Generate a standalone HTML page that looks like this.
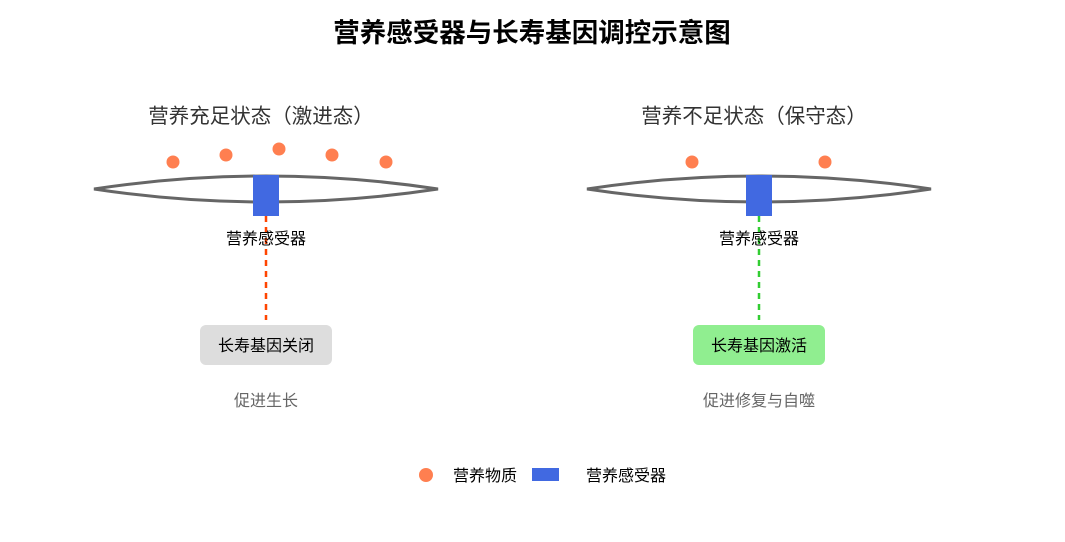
<!DOCTYPE html>
<html><head><meta charset="utf-8"><style>body{margin:0;background:#fff}svg{display:block}text{font-family:"Liberation Sans","Noto Sans CJK SC",sans-serif}</style></head>
<body>
<svg width="1065" height="542" viewBox="0 0 1065 542">
<text x="532" y="42" text-anchor="middle" font-size="26.5" font-weight="bold" fill="#000">营养感受器与长寿基因调控示意图</text>
<g>
<text x="261" y="123" text-anchor="middle" font-size="20.5" fill="#333">营养充足状态（激进态）</text>
<path d="M94,189 Q266,163 438,189 Q266,215 94,189 Z" fill="none" stroke="#666" stroke-width="3"/>
<g fill="#ff7f50"><circle cx="173" cy="162" r="6.5"/><circle cx="226" cy="155" r="6.5"/><circle cx="279" cy="149" r="6.5"/><circle cx="332" cy="155" r="6.5"/><circle cx="386" cy="162" r="6.5"/></g>
<rect x="253" y="175" width="26" height="41" fill="#4169e1"/>
<line x1="266" y1="216" x2="266" y2="320" stroke="#ff4500" stroke-width="2.5" stroke-dasharray="6,5"/>
<text x="266" y="244" text-anchor="middle" font-size="16" fill="#000">营养感受器</text>
<rect x="200" y="325" width="132" height="40" rx="6" fill="#ddd"/>
<text x="266" y="351" text-anchor="middle" font-size="16" fill="#000">长寿基因关闭</text>
<text x="266" y="406" text-anchor="middle" font-size="16" fill="#666">促进生长</text>
</g>
<g>
<text x="754" y="123" text-anchor="middle" font-size="20.5" fill="#333">营养不足状态（保守态）</text>
<path d="M587,189 Q759,163 931,189 Q759,215 587,189 Z" fill="none" stroke="#666" stroke-width="3"/>
<g fill="#ff7f50"><circle cx="692" cy="162" r="6.5"/><circle cx="825" cy="162" r="6.5"/></g>
<rect x="746" y="175" width="26" height="41" fill="#4169e1"/>
<line x1="759" y1="216" x2="759" y2="320" stroke="#32cd32" stroke-width="2.5" stroke-dasharray="6,5"/>
<text x="759" y="244" text-anchor="middle" font-size="16" fill="#000">营养感受器</text>
<rect x="693" y="325" width="132" height="40" rx="6" fill="#90ee90"/>
<text x="759" y="351" text-anchor="middle" font-size="16" fill="#000">长寿基因激活</text>
<text x="759" y="406" text-anchor="middle" font-size="16" fill="#666">促进修复与自噬</text>
</g>
<circle cx="426" cy="475" r="7" fill="#ff7f50"/>
<text x="453" y="481" font-size="16" fill="#000">营养物质</text>
<rect x="532" y="468" width="27" height="13" fill="#4169e1"/>
<text x="586" y="481" font-size="16" fill="#000">营养感受器</text>
</svg>
</body></html>
